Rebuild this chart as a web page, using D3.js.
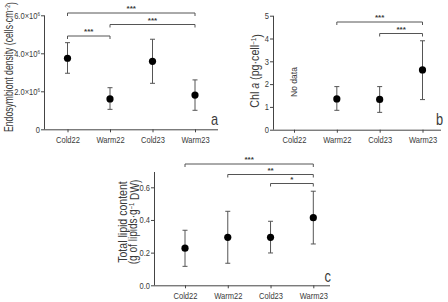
<html lang="en">
<head>
<style>
body { margin: 0; background: #fff; }
svg text { font-family: 'Liberation Sans', Arial, sans-serif; fill: #3a3a3a; }
.domain, .tick line { stroke: #444; }
</style>
</head>
<body>
<div id="chart"></div>
<script src="https://d3js.org/d3.v7.min.js"></script>
<script>
// categories and values
const categories = ["Cold22", "Warm22", "Cold23", "Warm23"];

const densityMean = [3.74e6, 1.60e6, 3.58e6, 1.80e6];
const densityLow  = [2.95e6, 1.05e6, 2.42e6, 1.00e6];
const densityHigh = [4.56e6, 2.19e6, 4.74e6, 2.60e6];
const densityTicks = [0, 2e6, 4e6, 6e6];
const densitySig = [["Cold22", "Warm23", "***"], ["Warm22", "Warm23", "***"], ["Cold22", "Warm22", "***"]];

const chlMean = [null, 1.35, 1.33, 2.62];
const chlLow  = [null, 0.85, 0.76, 1.32];
const chlHigh = [null, 1.89, 1.89, 3.90];
const chlTicks = [0, 1, 2, 3, 4, 5];
const chlSig = [["Warm22", "Warm23", "***"], ["Cold23", "Warm23", "***"]];

const lipidMean = [0.227, 0.294, 0.294, 0.414];
const lipidLow  = [0.116, 0.135, 0.198, 0.253];
const lipidHigh = [0.337, 0.453, 0.392, 0.576];
const lipidTicks = [0, 0.2, 0.4, 0.6];
const lipidSig = [["Cold22", "Warm23", "***"], ["Warm22", "Warm23", "**"], ["Cold23", "Warm23", "*"]];

const svg = d3.select("#chart").append("svg")
  .attr("width", 448)
  .attr("height", 302);

// the figure uses a condensed face, so squeeze text along its own direction
function squeeze(sel, k) {
  sel.each(function() {
    const t = d3.select(this);
    const x = +t.attr("x") || 0;
    const tr = t.attr("transform") || "";
    t.attr("transform", tr + " translate(" + x + ",0) scale(" + k + ",1) translate(" + (-x) + ",0)");
  });
}

function drawPanel(p) {
  const g = svg.append("g");
  const x = d3.scalePoint().domain(categories).range([p.x0, p.x1]);
  const y = d3.scaleLinear().domain(p.domain).range([p.bottom, p.top]);

  // x axis
  const xa = g.append("g")
    .attr("transform", "translate(0," + p.bottom + ")")
    .call(d3.axisBottom(x).tickSize(3).tickSizeOuter(0).tickPadding(3));
  xa.select(".domain").attr("d", "M" + p.left + ",0.5H" + p.right);
  xa.selectAll("text").attr("font-size", 9).attr("dy", "0.85em").call(squeeze, 0.84);

  // y axis
  const ya = g.append("g")
    .attr("transform", "translate(" + p.left + ",0)")
    .call(d3.axisLeft(y).tickValues(p.ticks).tickSize(3).tickSizeOuter(0).tickFormat(""));
  ya.select(".domain").attr("d", "M0.5," + p.axisTop + "V" + p.bottom);
  ya.selectAll(".tick").append("text")
    .attr("x", -4).attr("dy", "0.32em")
    .attr("text-anchor", "end")
    .attr("font-size", 9)
    .each(function(d) { p.fmt(d3.select(this), d); })
    .call(squeeze, 0.84);

  // error bars + means
  const rows = categories.map((c, i) => ({ c: c, m: p.mean[i], lo: p.low[i], hi: p.high[i] }))
    .filter(d => d.m !== null);
  const eb = g.selectAll(".eb").data(rows).enter().append("g")
    .attr("stroke", "#555").attr("stroke-width", 1);
  eb.append("line")
    .attr("x1", d => x(d.c)).attr("x2", d => x(d.c))
    .attr("y1", d => y(d.lo)).attr("y2", d => y(d.hi));
  eb.append("line")
    .attr("x1", d => x(d.c) - 2.5).attr("x2", d => x(d.c) + 2.5)
    .attr("y1", d => y(d.hi)).attr("y2", d => y(d.hi));
  eb.append("line")
    .attr("x1", d => x(d.c) - 2.5).attr("x2", d => x(d.c) + 2.5)
    .attr("y1", d => y(d.lo)).attr("y2", d => y(d.lo));
  g.selectAll(".pt").data(rows).enter().append("circle")
    .attr("cx", d => x(d.c)).attr("cy", d => y(d.m))
    .attr("r", 3.6).attr("fill", "#000");

  // significance brackets
  p.sig.forEach((s, i) => {
    const by = p.sigY[i];
    g.append("path")
      .attr("d", "M" + x(s[0]) + "," + (by + 3) + "V" + by + "H" + x(s[1]) + "V" + (by + 3))
      .attr("fill", "none").attr("stroke", "#555").attr("stroke-width", 1);
    g.append("text")
      .attr("x", (x(s[0]) + x(s[1])) / 2).attr("y", by - 2)
      .attr("text-anchor", "middle").attr("font-size", 8).attr("font-weight", "bold")
      .text(s[2]);
  });

  // panel letter
  g.append("text")
    .attr("x", p.letterX).attr("y", p.letterY)
    .attr("text-anchor", "end").attr("font-size", 16)
    .text(p.letter)
    .call(squeeze, 0.8);

  return { g: g, x: x, y: y };
}

function sci(sel, d) {
  if (d === 0) { sel.text("0"); return; }
  sel.text((d / 1e6).toFixed(1) + "×10");
  sel.append("tspan").attr("dy", "-0.45em").attr("font-size", 5.5).text("6");
}

const pa = drawPanel({
  left: 44, right: 218, x0: 67.5, x1: 195, top: 15.3, bottom: 129.3, axisTop: 15.3,
  domain: [0, 6e6], ticks: densityTicks, fmt: sci,
  mean: densityMean, low: densityLow, high: densityHigh,
  sig: densitySig, sigY: [13, 24.5, 36],
  letter: "a", letterX: 218, letterY: 125
});
const ta = pa.g.append("text")
  .attr("transform", "translate(13,67) rotate(-90)")
  .attr("text-anchor", "middle").attr("font-size", 12)
  .text("Endosymbiont density (cells·cm");
ta.append("tspan").attr("dy", "-0.45em").attr("font-size", 7).text("−2");
ta.append("tspan").attr("dy", "0.45em").text(")");
ta.call(squeeze, 0.72);

const pb = drawPanel({
  left: 273, right: 441, x0: 294, x1: 422.5, top: 15.7, bottom: 129.7, axisTop: 15.7,
  domain: [0, 5], ticks: chlTicks, fmt: (s, d) => s.text(d),
  mean: chlMean, low: chlLow, high: chlHigh,
  sig: chlSig, sigY: [22, 33.5],
  letter: "b", letterX: 443, letterY: 125
});
pb.g.append("text")
  .attr("transform", "translate(" + (pb.x("Cold22") + 3) + ",82) rotate(-90)")
  .attr("text-anchor", "middle").attr("font-size", 8.5)
  .text("No data");
const tb = pb.g.append("text")
  .attr("transform", "translate(259,71) rotate(-90)")
  .attr("text-anchor", "middle").attr("font-size", 12);
tb.append("tspan").text("Chl ");
tb.append("tspan").attr("font-style", "italic").text("a");
tb.append("tspan").text(" (pg·cell");
tb.append("tspan").attr("dy", "-0.45em").attr("font-size", 7).text("−1");
tb.append("tspan").attr("dy", "0.45em").text(")");
tb.call(squeeze, 0.89);

const pc = drawPanel({
  left: 154, right: 330, x0: 185, x1: 313.3, top: 187.3, bottom: 285.3, axisTop: 172,
  domain: [0, 0.6], ticks: lipidTicks, fmt: (s, d) => s.text(d.toFixed(1)),
  mean: lipidMean, low: lipidLow, high: lipidHigh,
  sig: lipidSig, sigY: [164, 174.5, 183.5],
  letter: "c", letterX: 331, letterY: 282
});
const tc1 = pc.g.append("text")
  .attr("transform", "translate(127,222) rotate(-90)")
  .attr("text-anchor", "middle").attr("font-size", 12)
  .text("Total lipid content");
tc1.call(squeeze, 0.88);
const tc = pc.g.append("text")
  .attr("transform", "translate(137,222) rotate(-90)")
  .attr("text-anchor", "middle").attr("font-size", 12);
tc.append("tspan").text("(g of lipids·g");
tc.append("tspan").attr("dy", "-0.45em").attr("font-size", 7).text("−1");
tc.append("tspan").attr("dy", "0.45em").text(" DW)");
tc.call(squeeze, 0.84);
</script>
</body>
</html>
